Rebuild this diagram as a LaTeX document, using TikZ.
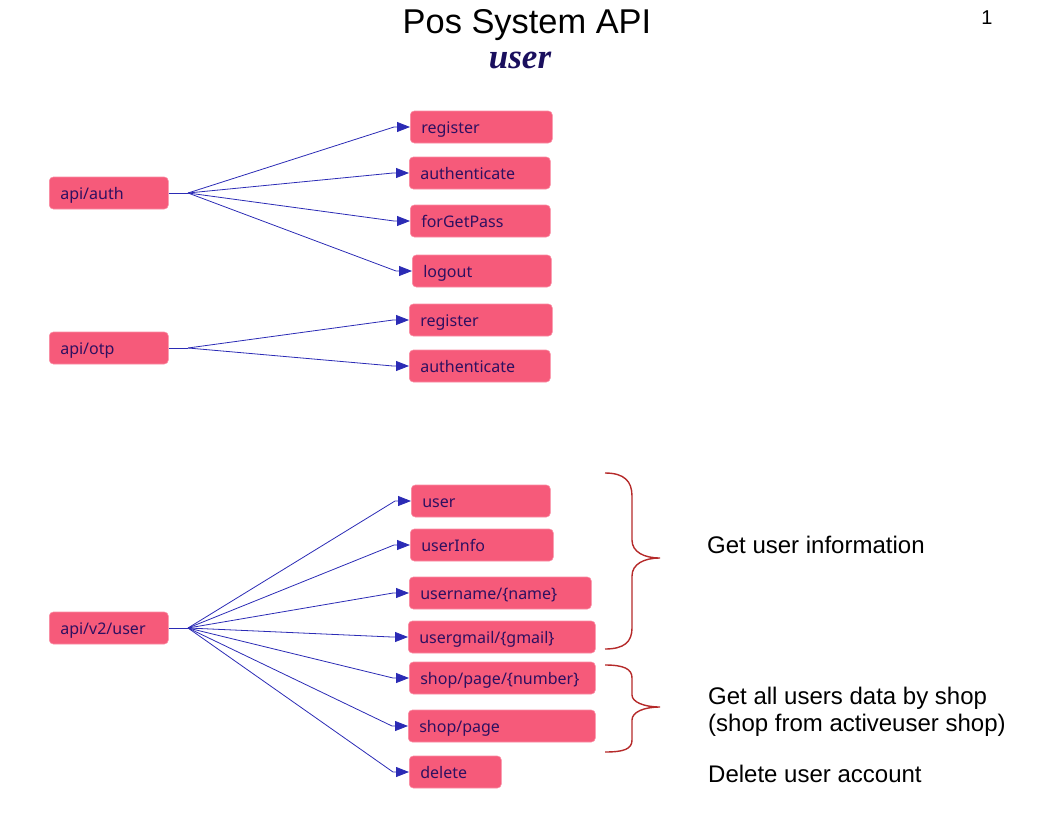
\documentclass[tikz,border=0pt]{standalone}
\usepackage{fontspec}
\setmainfont{Liberation Sans}
\newfontfamily\boxfont{Noto Sans}
\newfontfamily\serifbi{Liberation Serif}
\usetikzlibrary{arrows.meta}
\definecolor{boxpink}{HTML}{F65A7A}
\definecolor{boxtext}{HTML}{2E1060}
\definecolor{linkblue}{HTML}{2B2BB5}
\definecolor{bracered}{HTML}{B52A2A}
\definecolor{navy}{HTML}{1A0F5E}
\tikzset{
  apibox/.style={fill=boxpink, draw=boxpink!70!white, line width=0.6pt, rounded corners=4pt,
    minimum height=32pt, inner xsep=11pt, inner ysep=0pt, anchor=west, align=left,
    text height=14pt, text depth=2pt,
    font=\boxfont\fontsize{16}{18}\selectfont, text=boxtext},
  link/.style={draw=linkblue, line width=0.8pt, -{Triangle[length=13pt,width=10pt]}},
  brace/.style={draw=bracered, line width=1.4pt},
  note/.style={anchor=west, font=\fontsize{24}{27}\selectfont, align=left, inner sep=0pt}
}
\newcommand{\bx}[4]{\node[apibox, text width=#3pt-22pt] (#1) at (#2) {#4};}
\begin{document}
\begin{tikzpicture}[x=1pt,y=-1pt]
\useasboundingbox (0,0) rectangle (1056,816);
% titles
\node[font=\fontsize{34.4}{38}\selectfont] (title) at (527,25) {Pos System API};
\node[font=\serifbi\bfseries\itshape\fontsize{35}{38}\selectfont, text=navy] (sub) at (520,60) {user};
\node[font=\fontsize{20}{24}\selectfont] (pg) at (987,18) {1};
% sources
\bx{auth}{49,193}{119}{api/auth}
\bx{otp}{49,348}{119}{api/otp}
\bx{v2}{49,628}{119}{api/v2/user}
% auth targets
\bx{reg}{410,127}{142}{register}
\bx{authn}{409,173}{141}{authenticate}
\bx{fgp}{410,221}{140}{forGetPass}
\bx{logout}{412,271}{139}{logout}
% otp targets
\bx{reg2}{409,320}{143}{register}
\bx{authn2}{409,366}{141}{authenticate}
% user targets
\bx{user}{411,501}{139}{user}
\bx{uinfo}{410,545}{143}{userInfo}
\bx{uname}{409,593}{182}{username/\{name\}}
\bx{ugmail}{408,637}{187}{usergmail/\{gmail\}}
\bx{spn}{409,678}{186}{shop/page/\{number\}}
\bx{sp}{408,726}{187}{shop/page}
\bx{del}{409,772}{92}{delete}
% fan points
\coordinate (fa) at (188,193);
\coordinate (fo) at (188,348);
\coordinate (fv) at (188,628);
\draw[linkblue, line width=0.8pt] (auth.east) -- (fa);
\draw[linkblue, line width=0.8pt] (otp.east) -- (fo);
\draw[linkblue, line width=0.8pt] (v2.east) -- (fv);
\foreach \t in {reg,authn,fgp,logout}{
  \draw[link] (fa) -- ([xshift=-16pt]\t.west) -- (\t.west);
}
\foreach \t in {reg2,authn2}{
  \draw[link] (fo) -- ([xshift=-16pt]\t.west) -- (\t.west);
}
\foreach \t in {user,uinfo,uname,ugmail,spn,sp,del}{
  \draw[link] (fv) -- ([xshift=-16pt]\t.west) -- (\t.west);
}
% braces
\draw[brace] (605,473) .. controls (624,473) and (632,481) .. (632,496) -- (632,540)
  .. controls (632,552) and (644,558) .. (660,558)
  .. controls (644,558) and (632,564) .. (632,576) -- (632,628)
  .. controls (632,642) and (624,649) .. (605,649);
\draw[brace] (605,665) .. controls (624,665) and (632,669) .. (632,678) -- (632,695)
  .. controls (632,702) and (644,707) .. (660,707)
  .. controls (644,707) and (632,712) .. (632,720) -- (632,740)
  .. controls (632,749) and (624,752) .. (605,752);
% notes
\node[note] (n1) at (707,545) {Get user information};
\node[note] (n2) at (708,712) {Get all users data by shop\\(shop from activeuser shop)};
\node[note] (n3) at (708,774) {Delete user account};
\end{tikzpicture}
\end{document}
